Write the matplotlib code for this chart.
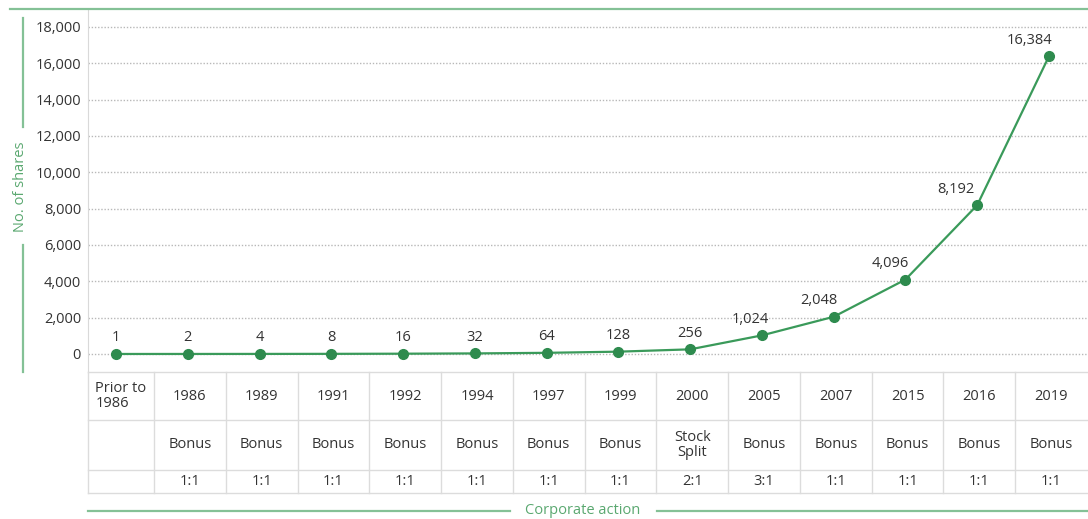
import numpy as np
import matplotlib.pyplot as plt
from matplotlib.lines import Line2D

plt.rcParams['font.family'] = ['Open Sans', 'DejaVu Sans']
plt.rcParams['font.weight'] = 500

# 데이터
years = ['Prior to\n1986', '1986', '1989', '1991', '1992', '1994', '1997',
         '1999', '2000', '2005', '2007', '2015', '2016', '2019']
actions = ['', 'Bonus', 'Bonus', 'Bonus', 'Bonus', 'Bonus', 'Bonus',
           'Bonus', 'Stock\nSplit', 'Bonus', 'Bonus', 'Bonus', 'Bonus', 'Bonus']
ratios = ['', '1:1', '1:1', '1:1', '1:1', '1:1', '1:1',
          '1:1', '2:1', '3:1', '1:1', '1:1', '1:1', '1:1']
shares = [1, 2, 4, 8, 16, 32, 64, 128, 256, 1024, 2048, 4096, 8192, 16384]
yticks = [0, 2000, 4000, 6000, 8000, 10000, 12000, 14000, 16000, 18000]

# 라벨 위치 조정 (px)
label_dx = [0, 0, 0, 0, 0, 0, 0, 0, 0, -12, -15, -15, -21, -19]

GREEN = '#3a9a5a'
LIGHT_GREEN = '#84c196'
TEXT = '#333333'
GRID = '#b8b8b8'
W, H = 1088, 519

fig = plt.figure(figsize=(W / 100, H / 100), dpi=100)

def fx(px):
    return px / W

def fy(py):
    return 1 - py / H

x = np.arange(len(shares))
xlim = (-0.39, 13.53)

# 메인 그래프
ax = fig.add_axes([fx(88), fy(372), fx(1087) - fx(88), fy(10) - fy(372)])
ax.plot(x, shares, color=GREEN, lw=1.6, marker='o', ms=7,
        mfc='#2e8b4e', mec='#2e8b4e', zorder=3)
for i, v in enumerate(shares):
    ax.annotate(f'{v:,}', (x[i], v), xytext=(label_dx[i], 16),
                textcoords='offset pixels', ha='center', va='center',
                fontsize=10.5, color=TEXT)
ax.set_xlim(xlim)
ax.set_ylim(-991, 18932)
ax.set_yticks(yticks)
ax.set_yticklabels([f'{t:,}' for t in yticks], fontsize=10.5, color=TEXT)
ax.set_xticks([])
ax.tick_params(axis='y', length=0, pad=5)
for t in yticks:
    ax.axhline(t, color=GRID, lw=1.0, ls=(0, (1, 1.3)), zorder=1)
for s in ['top', 'right', 'bottom']:
    ax.spines[s].set_visible(False)
ax.spines['left'].set_color('#d9d9d9')

# 표
ax_t = fig.add_axes([fx(88), fy(493), fx(1087) - fx(88), fy(372) - fy(493)])
ax_t.set_xlim(xlim)
ax_t.set_ylim(121, 0)
ax_t.axis('off')
bounds = [xlim[0]] + [i + 0.53 for i in range(13)] + [xlim[1]]
for yy in [0, 48, 98, 121]:
    ax_t.plot(xlim, [yy, yy], color='#dcdcdc', lw=1, clip_on=False)
for b in bounds[:-1]:
    ax_t.plot([b, b], [0, 121], color='#dcdcdc', lw=1, clip_on=False)
for i in range(len(years)):
    cx = (bounds[i] + bounds[i + 1]) / 2
    ax_t.text(cx, 24, years[i], ha='center', va='center', fontsize=10.5,
              color=TEXT, multialignment='left', linespacing=1.0)
    ax_t.text(cx, 73, actions[i], ha='center', va='center', fontsize=10.5,
              color=TEXT, linespacing=1.0)
    ax_t.text(cx, 109.5, ratios[i], ha='center', va='center', fontsize=10.5,
              color=TEXT)

# 장식선 및 축 제목
fig.add_artist(Line2D([fx(10), fx(1088)], [fy(9), fy(9)], color=LIGHT_GREEN, lw=1.6))
fig.add_artist(Line2D([fx(23), fx(23)], [fy(18), fy(127)], color=LIGHT_GREEN, lw=1.6))
fig.add_artist(Line2D([fx(23), fx(23)], [fy(245), fy(372)], color=LIGHT_GREEN, lw=1.6))
fig.text(fx(21), fy(186.5), 'No. of shares', rotation=90, ha='center', va='center',
         fontsize=10.5, color='#5aa870')
fig.add_artist(Line2D([fx(88), fx(510)], [fy(511), fy(511)], color=LIGHT_GREEN, lw=1.6))
fig.add_artist(Line2D([fx(657), fx(1087)], [fy(511), fy(511)], color=LIGHT_GREEN, lw=1.6))
fig.text(fx(583), fy(510), 'Corporate action', ha='center', va='center',
         fontsize=10.5, color='#5aa870')

plt.savefig('out.png', dpi=100)
